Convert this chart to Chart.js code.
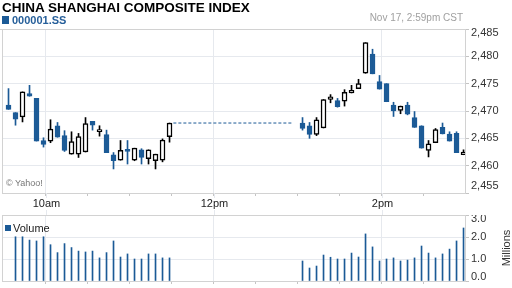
<!DOCTYPE html>
<html>
<head>
<meta charset="utf-8">
<title>China Shanghai Composite Index</title>
<script src="https://cdn.jsdelivr.net/npm/chart.js@4.4.1/dist/chart.umd.min.js"></script>
<style>
    html, body { margin: 0; padding: 0; background: #fff; }
    #ssec-chart { position: relative; width: 512px; height: 288px; overflow: hidden; font-family: "Liberation Sans", Arial, sans-serif; }
    #ssec-price-canvas { position: absolute; left: 0; top: 0; }
    #ssec-volume-canvas { position: absolute; left: 0; top: 215px; }
    .ssec-title { position: absolute; left: 2px; top: 1.4px; font-size: 13.5px; line-height: 13.5px; font-weight: bold; color: #000; white-space: nowrap; }
    .ssec-symbol { position: absolute; left: 12px; top: 14.7px; font-size: 11px; line-height: 11px; font-weight: bold; color: #265f9a; }
    .ssec-swatch { position: absolute; left: 2px; top: 16px; width: 7px; height: 8px; background: #1b5a96; }
    .ssec-date { position: absolute; right: 49px; top: 13px; font-size: 10px; line-height: 10px; color: #a0a0a0; white-space: nowrap; }
    .ssec-credit { position: absolute; left: 6px; top: 179px; font-size: 9px; line-height: 9px; color: #777; }
    .ssec-legend-swatch { position: absolute; left: 5px; top: 225px; width: 6px; height: 6px; background: #1b5a96; }
    .ssec-legend { position: absolute; left: 13px; top: 222.7px; font-size: 11px; line-height: 11px; color: #222; }
</style>
</head>
<body>
<div id="ssec-chart">
    <canvas id="ssec-price-canvas" width="512" height="215"></canvas>
    <canvas id="ssec-volume-canvas" width="512" height="73"></canvas>
    <div class="ssec-title">CHINA SHANGHAI COMPOSITE INDEX</div>
    <div class="ssec-swatch"></div>
    <div class="ssec-symbol">000001.SS</div>
    <div class="ssec-date">Nov 17, 2:59pm CST</div>
    <div class="ssec-credit">© Yahoo!</div>
    <div class="ssec-legend-swatch"></div>
    <div class="ssec-legend">Volume</div>
</div>
<script>
(function () {
    'use strict';

    // 5-minute candles, morning session
    var AM_TIMES = ['9:30', '9:35', '9:40', '9:45', '9:50', '9:55', '10:00', '10:05', '10:10', '10:15', '10:20', '10:25',
        '10:30', '10:35', '10:40', '10:45', '10:50', '10:55', '11:00', '11:05', '11:10', '11:15', '11:20', '11:25'];
    var AM_OPEN = [2471.1, 2469.7, 2468.9, 2473.2, 2472.3, 2464.6, 2464.5, 2467.3, 2465.5, 2462.1, 2462.1, 2462.5,
        2468.1, 2466.2, 2465.7, 2462.0, 2461.0, 2462.7, 2461.0, 2462.9, 2461.3, 2460.9, 2461.0, 2465.3];
    var AM_HIGH = [2474.1, 2469.7, 2473.5, 2474.7, 2472.3, 2465.1, 2468.4, 2467.9, 2466.4, 2466.2, 2465.9, 2468.8,
        2468.1, 2467.3, 2466.5, 2462.4, 2464.6, 2464.6, 2463.2, 2463.1, 2462.9, 2462.1, 2464.9, 2467.8];
    var AM_LOW = [2470.3, 2467.4, 2468.0, 2472.7, 2464.5, 2463.4, 2464.2, 2465.2, 2462.6, 2462.1, 2461.5, 2462.5,
        2466.5, 2465.4, 2462.4, 2459.4, 2461.0, 2460.3, 2460.9, 2460.3, 2460.3, 2459.4, 2460.7, 2464.3];
    var AM_CLOSE = [2470.3, 2468.5, 2473.5, 2472.7, 2464.5, 2463.9, 2466.7, 2465.2, 2462.8, 2464.4, 2465.3, 2467.7,
        2467.4, 2466.6, 2462.4, 2460.9, 2462.8, 2462.6, 2463.2, 2461.5, 2462.9, 2462.1, 2464.7, 2467.8];
    var AM_VOLUME = [null, 2.01, 2.01, 1.86, 1.82, 2.01, 1.65, 1.29, 1.70, 1.52, 1.36, 1.32,
        1.36, 1.05, 1.29, 1.82, 1.09, 1.23, 1.00, 1.00, 1.23, 1.23, 1.05, 1.05];

    // afternoon session
    var PM_TIMES = ['13:00', '13:05', '13:10', '13:15', '13:20', '13:25', '13:30', '13:35', '13:40', '13:45', '13:50', '13:55',
        '14:00', '14:05', '14:10', '14:15', '14:20', '14:25', '14:30', '14:35', '14:40', '14:45', '14:50', '14:55'];
    var PM_OPEN = [2467.8, 2467.3, 2465.7, 2466.9, 2472.1, 2471.9, 2471.8, 2473.3, 2474.1, 2476.9, 2480.4, 2475.4,
        2475.0, 2471.1, 2470.1, 2471.1, 2468.8, 2467.3, 2462.8, 2464.2, 2467.0, 2465.8, 2465.9, 2462.0];
    var PM_HIGH = [2468.8, 2467.9, 2468.8, 2472.1, 2473.0, 2472.3, 2473.9, 2474.7, 2475.8, 2482.5, 2481.3, 2476.5,
        2475.0, 2471.6, 2470.9, 2471.6, 2469.9, 2467.3, 2464.6, 2466.8, 2467.8, 2466.2, 2466.2, 2462.9];
    var PM_LOW = [2466.5, 2465.0, 2465.5, 2466.9, 2471.5, 2470.7, 2470.9, 2473.3, 2474.1, 2476.9, 2476.8, 2474.0,
        2471.7, 2469.0, 2469.5, 2469.3, 2467.0, 2463.2, 2461.6, 2464.2, 2465.8, 2464.5, 2462.4, 2462.0];
    var PM_CLOSE = [2466.8, 2465.7, 2468.4, 2472.1, 2472.6, 2470.8, 2473.4, 2473.8, 2475.0, 2482.5, 2476.8, 2474.0,
        2471.7, 2470.0, 2470.9, 2469.4, 2467.0, 2463.2, 2464.0, 2466.6, 2465.8, 2464.5, 2462.4, 2462.5];
    var PM_VOLUME = [0.91, 0.59, 0.68, 1.18, 1.08, 1.00, 1.00, 1.27, 1.09, 2.14, 1.55, 0.91,
        1.00, 1.05, 0.91, 0.95, 1.05, 1.59, 1.27, 1.05, 1.23, 1.45, 1.82, 2.41];

    // lunch break, drawn as a dashed line at the last morning close
    var LUNCH_BREAK = ['11:31', '12:56'];

    var TIME_TICKS = ['10:00', '10:30', '11:00', '11:30', '12:00', '12:30', '13:00', '13:30', '14:00', '14:30'];
    var TIME_LABELS = { '10:00': '10am', '12:00': '12pm', '14:00': '2pm' };
    var PRICE_TICKS = [2455, 2460, 2465, 2470, 2475, 2480, 2485];
    var VOLUME_TICKS = [0, 1, 2, 3];

    var BLUE = '#1b5a96';
    var GRID = '#e6e9ee';
    var FRAME = '#d2d2d2';
    var TICK = '#c4c4c4';
    var LABEL = '#333';
    var FONT = '"Liberation Sans", Arial, sans-serif';
    var X_MIN = 568.6;
    var X_MAX = 899.3;
    var CANDLE_SHIFT = 3.25;

    function toMin(s) {
        var p = s.split(':');
        return Number(p[0]) * 60 + Number(p[1]);
    }

    var times = AM_TIMES.concat(PM_TIMES);
    var opens = AM_OPEN.concat(PM_OPEN);
    var highs = AM_HIGH.concat(PM_HIGH);
    var lows = AM_LOW.concat(PM_LOW);
    var closes = AM_CLOSE.concat(PM_CLOSE);
    var volumes = AM_VOLUME.concat(PM_VOLUME);

    var majorTicks = {};
    Object.keys(TIME_LABELS).forEach(function (t) { majorTicks[toMin(t)] = TIME_LABELS[t]; });

    function isUp(i) {
        return closes[i] >= opens[i];
    }

    var bodies = times.map(function (t, i) {
        return { x: toMin(t) + CANDLE_SHIFT, y: [opens[i], closes[i]] };
    });
    var wicks = times.map(function (t, i) {
        return { x: toMin(t) + CANDLE_SHIFT, y: [lows[i], highs[i]] };
    });
    var volumeBars = [];
    times.forEach(function (t, i) {
        if (volumes[i] !== null) {
            volumeBars.push({ x: toMin(t) + CANDLE_SHIFT, y: volumes[i] });
        }
    });
    var lunchClose = AM_CLOSE[AM_CLOSE.length - 1];
    var lunchLine = LUNCH_BREAK.map(function (t) { return { x: toMin(t), y: lunchClose }; });

    function timeAxis(height) {
        return {
            type: 'linear',
            min: X_MIN,
            max: X_MAX,
            offset: false,
            afterBuildTicks: function (scale) {
                scale.ticks = TIME_TICKS.map(function (t) { return { value: toMin(t) }; });
            },
            afterFit: function (scale) {
                scale.height = height;
            },
            ticks: { display: false },
            grid: {
                offset: false,
                color: function (c) {
                    return c.tick && majorTicks[c.tick.value] ? GRID : 'rgba(0,0,0,0)';
                },
                tickColor: TICK,
                tickLength: 3
            },
            border: { display: true, color: FRAME }
        };
    }

    function valueAxis(min, max, ticks) {
        return {
            type: 'linear',
            position: 'right',
            min: min,
            max: max,
            beginAtZero: false,
            afterBuildTicks: function (scale) {
                scale.ticks = ticks.map(function (v) { return { value: v }; });
            },
            afterFit: function (scale) {
                scale.width = 47;
            },
            ticks: { display: false },
            grid: { color: GRID, tickColor: TICK, tickLength: 4 },
            border: { display: true, color: FRAME }
        };
    }

    // right-hand labels, kept inside the panel at its edges
    function drawValueLabels(chart, format, padTop, padBottom) {
        var ctx = chart.ctx;
        var a = chart.chartArea;
        var ys = chart.scales.y;
        ctx.save();
        ctx.font = '11px ' + FONT;
        ctx.fillStyle = LABEL;
        ctx.textAlign = 'left';
        ctx.textBaseline = 'middle';
        ys.ticks.forEach(function (t) {
            var y = ys.getPixelForValue(t.value);
            y = Math.min(Math.max(y, a.top + padTop), a.bottom - padBottom);
            ctx.fillText(format(t.value), a.right + 6, y);
        });
        ctx.restore();
    }

    function drawPanelFrame(chart, fromX) {
        var ctx = chart.ctx;
        var a = chart.chartArea;
        ctx.save();
        ctx.strokeStyle = FRAME;
        ctx.lineWidth = 1;
        ctx.beginPath();
        ctx.moveTo(fromX, Math.round(a.top) + 0.5);
        ctx.lineTo(a.right, Math.round(a.top) + 0.5);
        ctx.moveTo(Math.round(a.left) + 0.5, a.top);
        ctx.lineTo(Math.round(a.left) + 0.5, a.bottom);
        ctx.stroke();
        ctx.restore();
    }

    var priceDecor = {
        id: 'priceDecor',
        beforeDatasetsDraw: function (chart) {
            drawPanelFrame(chart, 0);
        },
        afterDraw: function (chart) {
            var ctx = chart.ctx;
            var a = chart.chartArea;
            var xs = chart.scales.x;
            ctx.save();
            ctx.font = '11px ' + FONT;
            ctx.textAlign = 'center';
            ctx.textBaseline = 'middle';
            Object.keys(majorTicks).forEach(function (v) {
                var x = Math.round(xs.getPixelForValue(Number(v))) + 0.5;
                var text = majorTicks[v];
                var w = ctx.measureText(text).width;
                ctx.strokeStyle = GRID;
                ctx.lineWidth = 1;
                ctx.beginPath();
                ctx.moveTo(x, a.bottom);
                ctx.lineTo(x, chart.height);
                ctx.stroke();
                ctx.fillStyle = '#fff';
                ctx.fillRect(x - w / 2 - 2, 198, w + 4, 12);
                ctx.fillStyle = '#222';
                ctx.fillText(text, x, 204);
            });
            ctx.restore();
            drawValueLabels(chart, function (v) { return v.toLocaleString('en-US'); }, 4, 7);
        }
    };

    var volumeDecor = {
        id: 'volumeDecor',
        beforeDatasetsDraw: function (chart) {
            drawPanelFrame(chart, chart.chartArea.left);
        },
        afterDraw: function (chart) {
            var ctx = chart.ctx;
            drawValueLabels(chart, function (v) { return v.toFixed(1); }, 4, 4);
            ctx.save();
            ctx.font = '11px ' + FONT;
            ctx.fillStyle = LABEL;
            ctx.textAlign = 'center';
            ctx.textBaseline = 'middle';
            ctx.translate(507, 33);
            ctx.rotate(-Math.PI / 2);
            ctx.fillText('Millions', 0, 0);
            ctx.restore();
        }
    };

    var commonOptions = {
        responsive: false,
        animation: false,
        events: [],
        plugins: { legend: { display: false }, tooltip: { enabled: false } }
    };

    new Chart(document.getElementById('ssec-price-canvas'), {
        type: 'bar',
        data: {
            datasets: [{
                label: 'Range',
                data: wicks,
                order: 2,
                grouped: false,
                barThickness: 1,
                borderWidth: 0,
                backgroundColor: function (c) { return isUp(c.dataIndex) ? '#000' : BLUE; }
            }, {
                label: 'Open / Close',
                data: bodies,
                order: 1,
                grouped: false,
                barThickness: 5,
                minBarLength: 2,
                borderWidth: 1.5,
                borderSkipped: false,
                backgroundColor: function (c) { return isUp(c.dataIndex) ? '#fff' : BLUE; },
                borderColor: function (c) { return isUp(c.dataIndex) ? '#000' : BLUE; }
            }, {
                type: 'line',
                label: 'Lunch break',
                data: lunchLine,
                order: 0,
                borderColor: BLUE,
                borderWidth: 1,
                borderDash: [3, 2],
                pointRadius: 0
            }]
        },
        options: Object.assign({}, commonOptions, {
            layout: { padding: { top: 29, left: 2, right: 0, bottom: 0 } },
            scales: {
                x: timeAxis(22),
                y: valueAxis(2455, 2485, PRICE_TICKS)
            }
        }),
        plugins: [priceDecor]
    });

    new Chart(document.getElementById('ssec-volume-canvas'), {
        type: 'bar',
        data: {
            datasets: [{
                label: 'Volume',
                data: volumeBars,
                barThickness: 1,
                borderWidth: 0,
                backgroundColor: BLUE
            }]
        },
        options: Object.assign({}, commonOptions, {
            layout: { padding: { top: 0, left: 2, right: 0, bottom: 0 } },
            scales: {
                x: timeAxis(7),
                y: valueAxis(0, 3, VOLUME_TICKS)
            }
        }),
        plugins: [volumeDecor]
    });
})();
</script>
</body>
</html>
